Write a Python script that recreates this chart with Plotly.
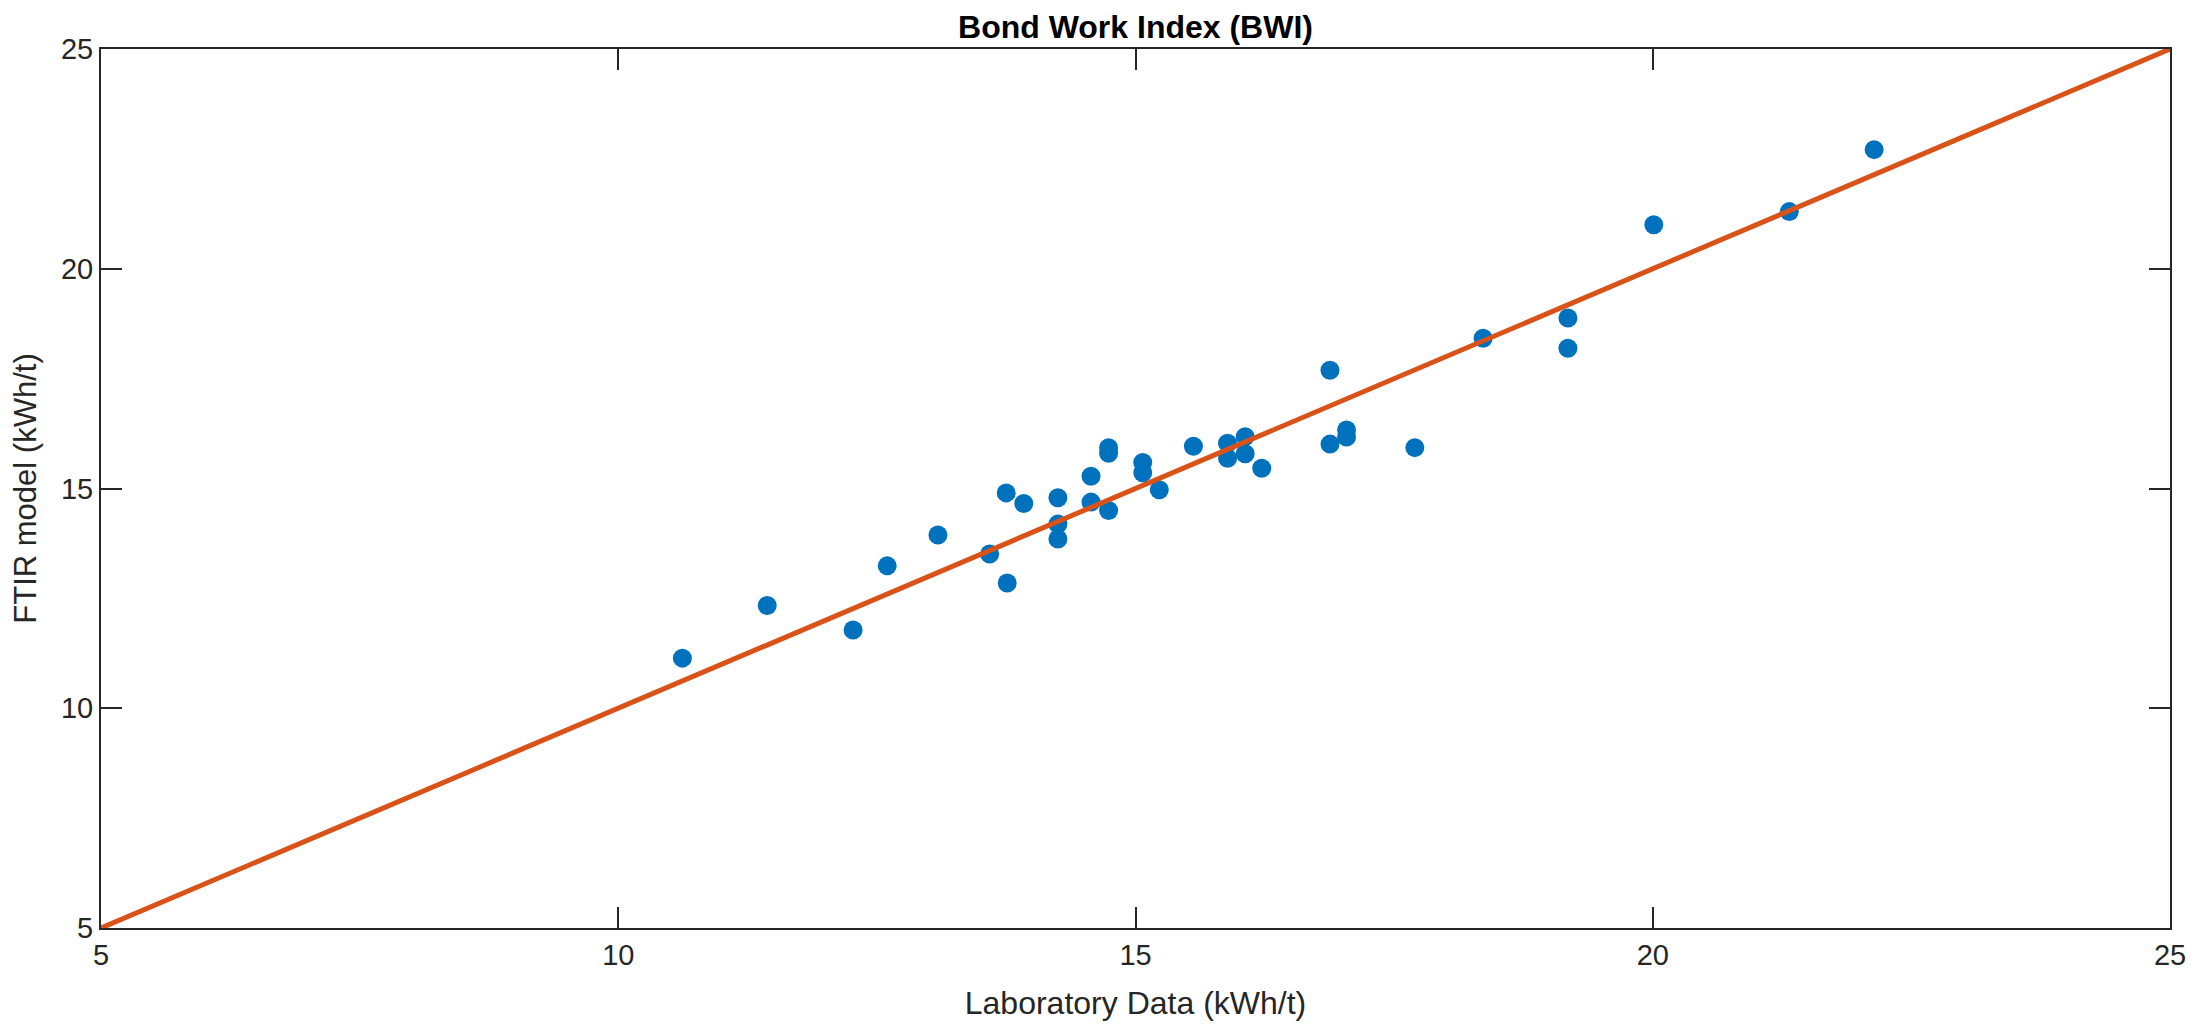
import plotly.graph_objects as go

# Laboratory data (x) and FTIR model prediction (y), kWh/t
lab_data = [10.62, 11.44, 12.27, 12.60, 13.09, 13.59, 13.75, 13.76, 13.92,
            14.25, 14.25, 14.25, 14.57, 14.57, 14.74, 14.74, 14.74,
            15.07, 15.07, 15.23, 15.56, 15.89, 15.89, 16.06, 16.06, 16.22,
            16.88, 16.88, 17.04, 17.04, 17.70, 18.36, 19.18, 19.18,
            20.01, 21.32, 22.14]
ftir_model = [11.14, 12.34, 11.78, 13.24, 13.94, 13.51, 14.90, 12.85, 14.66,
              14.79, 14.19, 13.85, 15.28, 14.69, 15.93, 15.80, 14.50,
              15.59, 15.36, 14.97, 15.96, 16.03, 15.69, 16.18, 15.79, 15.46,
              17.69, 16.01, 16.33, 16.17, 15.93, 18.42, 18.88, 18.19,
              21.00, 21.30, 22.71]

# 1:1 reference line
ref_line = [5, 25]

tick_vals = [5, 10, 15, 20, 25]

FONT = "Liberation Sans, Arial, Helvetica, sans-serif"
AX = "#262626"

fig = go.Figure()
fig.add_trace(go.Scatter(
    x=lab_data, y=ftir_model, mode="markers",
    marker=dict(color="#0072BD", size=19, line=dict(width=0)),
    showlegend=False, cliponaxis=False))
fig.add_trace(go.Scatter(
    x=ref_line, y=ref_line, mode="lines",
    line=dict(color="#D95319", width=5),
    showlegend=False, cliponaxis=False))

axis_common = dict(
    tickvals=tick_vals, ticks="inside", ticklen=21, tickwidth=2, tickcolor=AX,
    showline=True, linecolor=AX, linewidth=2, mirror="ticks",
    showgrid=False, zeroline=False,
    tickfont=dict(family=FONT, size=29, color=AX),
)

fig.update_layout(
    width=2205, height=1025,
    margin=dict(l=93, r=43, t=41, b=105),
    plot_bgcolor="white", paper_bgcolor="white",
    title=dict(text="<b>Bond Work Index (BWI)</b>", x=(93 + 2162) / 2 / 2205,
               xanchor="center", y=1 - 19 / 1025, yanchor="middle",
               yref="container",
               font=dict(family=FONT, size=32, color="black")),
    xaxis=dict(range=[5, 25], title=dict(text="Laboratory Data (kWh/t)",
               font=dict(family=FONT, size=32, color=AX), standoff=22),
               **axis_common),
    yaxis=dict(range=[5, 25], title=dict(text="FTIR model (kWh/t)",
               font=dict(family=FONT, size=31, color=AX), standoff=18),
               **axis_common),
)

fig.write_html("out.html")
